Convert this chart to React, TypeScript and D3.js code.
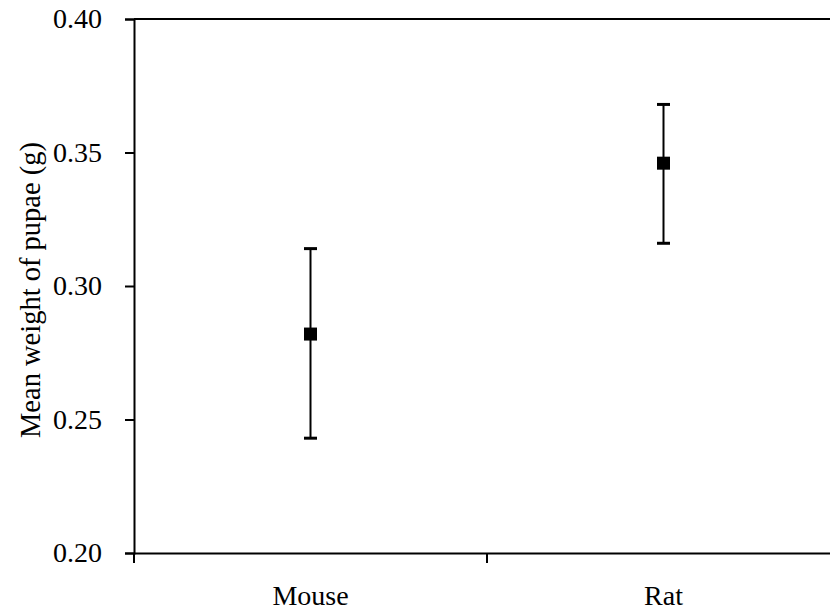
import { useEffect, useRef } from 'react';
import * as d3 from 'd3';

// categories and values
const categories = ['Mouse', 'Rat'];
const means = [0.282, 0.346];
const upper = [0.314, 0.368];
const lower = [0.243, 0.316];
const yTicks = [0.2, 0.25, 0.3, 0.35, 0.4];

const W = 830;
const H = 612;

const App = () => {
    const svgRef = useRef<SVGSVGElement | null>(null);

    useEffect(() => {
        document.body.style.margin = '0';
        const svg = d3.select(svgRef.current);
        svg.selectAll('*').remove();

        const left = 134;
        const right = 840;
        const top = 19;
        const bottom = 553;
        const font = "'Liberation Serif', 'Times New Roman', serif";

        const x = d3.scaleBand().domain(categories).range([left, right]);
        const y = d3.scaleLinear().domain([0.2, 0.4]).range([bottom, top]);

        // frame: top line
        svg.append('line')
            .attr('x1', left).attr('x2', right)
            .attr('y1', top).attr('y2', top)
            .attr('stroke', '#000').attr('stroke-width', 2);

        // y axis
        const yAxis = svg.append('g').attr('transform', `translate(${left},0)`)
            .call(d3.axisLeft(y).tickValues(yTicks).tickFormat(d3.format('.2f')).tickSizeOuter(0).tickSize(9).tickPadding(23));
        yAxis.select('.domain').attr('stroke', '#000').attr('stroke-width', 2);
        yAxis.selectAll('.tick line').attr('stroke', '#000').attr('stroke-width', 2);
        yAxis.selectAll('.tick text')
            .attr('fill', '#000')
            .style('font-family', font)
            .style('font-size', '28px');

        // x axis
        const xAxis = svg.append('g').attr('transform', `translate(0,${bottom})`)
            .call(d3.axisBottom(x).tickSize(0).tickSizeOuter(0).tickFormat(() => ''));
        xAxis.select('.domain').attr('stroke', '#000').attr('stroke-width', 2);
        xAxis.selectAll('.tick').remove();
        // boundary ticks between categories
        const bounds = [left, ...categories.slice(1).map(c => x(c) as number), right];
        svg.append('g').selectAll('line').data(bounds).join('line')
            .attr('x1', d => d).attr('x2', d => d)
            .attr('y1', bottom).attr('y2', bottom + 10)
            .attr('stroke', '#000').attr('stroke-width', 2);

        svg.append('g').selectAll('text').data(categories).join('text')
            .attr('x', d => (x(d) as number) + x.bandwidth() / 2)
            .attr('y', 605)
            .attr('text-anchor', 'middle')
            .style('font-family', font)
            .style('font-size', '28px')
            .text(d => d);

        // y label
        svg.append('text')
            .attr('transform', `translate(40,290) rotate(-90)`)
            .attr('text-anchor', 'middle')
            .style('font-family', font)
            .style('font-size', '28.5px')
            .text('Mean weight of pupae (g)');

        // error bars
        const g = svg.append('g');
        categories.forEach((c, i) => {
            const cx = (x(c) as number) + x.bandwidth() / 2;
            g.append('line')
                .attr('x1', cx).attr('x2', cx)
                .attr('y1', y(upper[i])).attr('y2', y(lower[i]))
                .attr('stroke', '#000').attr('stroke-width', 2);
            [upper[i], lower[i]].forEach(v => {
                g.append('line')
                    .attr('x1', cx - 6.5).attr('x2', cx + 6.5)
                    .attr('y1', y(v)).attr('y2', y(v))
                    .attr('stroke', '#000').attr('stroke-width', 3);
            });
            g.append('rect')
                .attr('x', cx - 6.5).attr('y', y(means[i]) - 6.5)
                .attr('width', 13).attr('height', 13)
                .attr('fill', '#000');
        });
    }, []);

    return <svg ref={svgRef} width={W} height={H} style={{ display: 'block', background: '#fff' }} />;
};

export default App;
